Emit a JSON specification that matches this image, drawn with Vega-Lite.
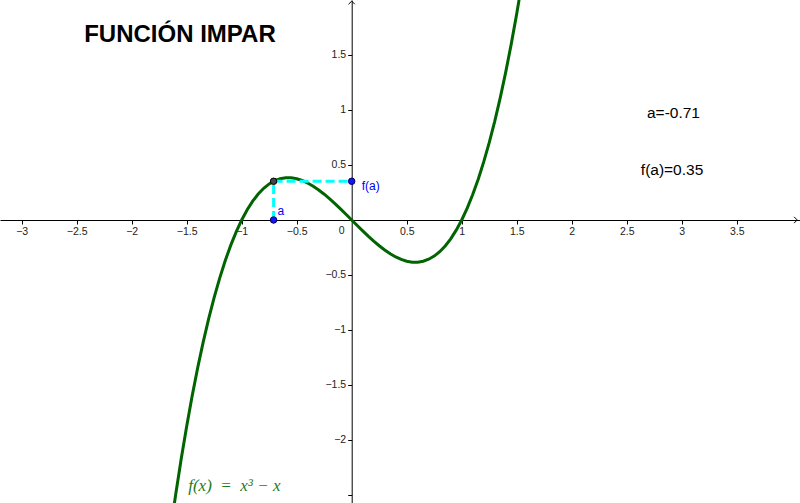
{
  "$schema": "https://vega.github.io/schema/vega-lite/v6.json",
  "width": 800,
  "height": 503,
  "autosize": {"type": "none"},
  "padding": 0,
  "background": "white",
  "config": {"view": {"stroke": null}},
  "datasets": {
    "curve": [
      {"x": -1.65, "y": -2.8421}, {"x": -1.6, "y": -2.496}, {"x": -1.55, "y": -2.1739}, {"x": -1.5, "y": -1.875},
      {"x": -1.45, "y": -1.5986}, {"x": -1.4, "y": -1.344}, {"x": -1.35, "y": -1.1104}, {"x": -1.3, "y": -0.897},
      {"x": -1.25, "y": -0.7031}, {"x": -1.2, "y": -0.528}, {"x": -1.15, "y": -0.3709}, {"x": -1.1, "y": -0.231},
      {"x": -1.05, "y": -0.1076}, {"x": -1.0, "y": 0}, {"x": -0.95, "y": 0.0926}, {"x": -0.9, "y": 0.171},
      {"x": -0.85, "y": 0.2359}, {"x": -0.8, "y": 0.288}, {"x": -0.75, "y": 0.3281}, {"x": -0.7, "y": 0.357},
      {"x": -0.65, "y": 0.3754}, {"x": -0.6, "y": 0.384}, {"x": -0.577, "y": 0.3849}, {"x": -0.55, "y": 0.3836},
      {"x": -0.5, "y": 0.375}, {"x": -0.45, "y": 0.3589}, {"x": -0.4, "y": 0.336}, {"x": -0.35, "y": 0.3071},
      {"x": -0.3, "y": 0.273}, {"x": -0.25, "y": 0.2344}, {"x": -0.2, "y": 0.192}, {"x": -0.15, "y": 0.1466},
      {"x": -0.1, "y": 0.099}, {"x": -0.05, "y": 0.0499}, {"x": 0, "y": 0},
      {"x": 0.05, "y": -0.0499}, {"x": 0.1, "y": -0.099}, {"x": 0.15, "y": -0.1466}, {"x": 0.2, "y": -0.192},
      {"x": 0.25, "y": -0.2344}, {"x": 0.3, "y": -0.273}, {"x": 0.35, "y": -0.3071}, {"x": 0.4, "y": -0.336},
      {"x": 0.45, "y": -0.3589}, {"x": 0.5, "y": -0.375}, {"x": 0.55, "y": -0.3836}, {"x": 0.577, "y": -0.3849},
      {"x": 0.6, "y": -0.384}, {"x": 0.65, "y": -0.3754}, {"x": 0.7, "y": -0.357}, {"x": 0.75, "y": -0.3281},
      {"x": 0.8, "y": -0.288}, {"x": 0.85, "y": -0.2359}, {"x": 0.9, "y": -0.171}, {"x": 0.95, "y": -0.0926},
      {"x": 1.0, "y": 0}, {"x": 1.05, "y": 0.1076}, {"x": 1.1, "y": 0.231}, {"x": 1.15, "y": 0.3709},
      {"x": 1.2, "y": 0.528}, {"x": 1.25, "y": 0.7031}, {"x": 1.3, "y": 0.897}, {"x": 1.35, "y": 1.1104},
      {"x": 1.4, "y": 1.344}, {"x": 1.45, "y": 1.5986}, {"x": 1.5, "y": 1.875}, {"x": 1.55, "y": 2.1739},
      {"x": 1.6, "y": 2.496}
    ],
    "pt": [{"a": -0.71, "fa": 0.352, "zero": 0}],
    "one": [{}]
  },
  "layer": [
    {
      "data": {"name": "curve"},
      "mark": {"type": "line", "color": "#006400", "strokeWidth": 3, "clip": true},
      "encoding": {
        "x": {
          "field": "x", "type": "quantitative",
          "scale": {"domain": [-3.197, 4.075], "nice": false, "zero": false},
          "axis": {
            "orient": "bottom", "offset": -283, "title": null, "grid": false,
            "values": [-3, -2.5, -2, -1.5, -1, -0.5, 0.5, 1, 1.5, 2, 2.5, 3, 3.5],
            "format": ".1~f", "labelFont": "Liberation Sans", "labelFontSize": 10.5,
            "labelColor": "#222222", "labelPadding": 2, "labelFlush": false, "labelOverlap": false,
            "tickSize": 4, "tickColor": "black", "domainColor": "black", "domainWidth": 1
          }
        },
        "y": {
          "field": "y", "type": "quantitative",
          "scale": {"domain": [-2.573, 2.0], "nice": false, "zero": false},
          "axis": {
            "orient": "left", "offset": -351.7, "title": null, "grid": false,
            "values": [-2.5, -2, -1.5, -1, -0.5, 0.5, 1, 1.5],
            "labelExpr": "datum.value == -2.5 ? '' : format(datum.value, '.1~f')",
            "labelFont": "Liberation Sans", "labelFontSize": 10.5,
            "labelColor": "#222222", "labelPadding": 2, "labelFlush": false, "labelOverlap": false,
            "tickSize": 4, "tickColor": "black", "domainColor": "black", "domainWidth": 1
          }
        }
      }
    },
    {
      "data": {"name": "pt"},
      "mark": {"type": "rule", "color": "#00ffff", "strokeWidth": 3, "strokeDash": [9, 4]},
      "encoding": {
        "x": {"field": "a", "type": "quantitative"},
        "y": {"field": "zero", "type": "quantitative"},
        "y2": {"field": "fa"}
      }
    },
    {
      "data": {"name": "pt"},
      "mark": {"type": "rule", "color": "#00ffff", "strokeWidth": 3, "strokeDash": [9, 4]},
      "encoding": {
        "x": {"field": "a", "type": "quantitative"},
        "x2": {"field": "zero"},
        "y": {"field": "fa", "type": "quantitative"}
      }
    },
    {
      "data": {"name": "pt"},
      "mark": {"type": "point", "filled": true, "size": 42, "color": "#1414ff", "stroke": "#000060", "strokeWidth": 1, "opacity": 1},
      "encoding": {
        "x": {"field": "a", "type": "quantitative"},
        "y": {"field": "zero", "type": "quantitative"}
      }
    },
    {
      "data": {"name": "pt"},
      "mark": {"type": "point", "filled": true, "size": 42, "color": "#1414ff", "stroke": "#000060", "strokeWidth": 1, "opacity": 1},
      "encoding": {
        "x": {"field": "zero", "type": "quantitative"},
        "y": {"field": "fa", "type": "quantitative"}
      }
    },
    {
      "data": {"name": "pt"},
      "mark": {"type": "point", "filled": true, "size": 42, "color": "#444444", "stroke": "#000000", "strokeWidth": 1, "opacity": 1},
      "encoding": {
        "x": {"field": "a", "type": "quantitative"},
        "y": {"field": "fa", "type": "quantitative"}
      }
    },
    {
      "data": {"name": "pt"},
      "mark": {"type": "text", "text": "a", "color": "#0000ff", "font": "Liberation Sans", "fontSize": 12, "align": "left", "baseline": "middle", "dx": 4, "dy": -9},
      "encoding": {
        "x": {"field": "a", "type": "quantitative"},
        "y": {"field": "zero", "type": "quantitative"}
      }
    },
    {
      "data": {"name": "pt"},
      "mark": {"type": "text", "text": "f(a)", "color": "#0000ff", "font": "Liberation Sans", "fontSize": 12, "align": "left", "baseline": "middle", "dx": 10, "dy": 5},
      "encoding": {
        "x": {"field": "zero", "type": "quantitative"},
        "y": {"field": "fa", "type": "quantitative"}
      }
    },
    {
      "data": {"name": "one"},
      "mark": {"type": "text", "text": "0", "color": "#222222", "font": "Liberation Sans", "fontSize": 10.5, "align": "center", "baseline": "middle", "dx": -10, "dy": 11},
      "encoding": {"x": {"datum": 0, "type": "quantitative"}, "y": {"datum": 0, "type": "quantitative"}}
    },
    {
      "data": {"name": "one"},
      "mark": {"type": "point", "shape": "M-1,-1L0,0L-1,1", "filled": false, "size": 40, "color": "black", "strokeWidth": 1, "opacity": 1},
      "encoding": {"x": {"datum": 4.05, "type": "quantitative"}, "y": {"datum": 0, "type": "quantitative"}}
    },
    {
      "data": {"name": "one"},
      "mark": {"type": "point", "shape": "M-1,1L0,0L1,1", "filled": false, "size": 40, "color": "black", "strokeWidth": 1, "opacity": 1},
      "encoding": {"x": {"datum": 0, "type": "quantitative"}, "y": {"datum": 1.99, "type": "quantitative"}}
    },
    {
      "data": {"name": "one"},
      "mark": {"type": "text", "text": "FUNCIÓN IMPAR", "color": "black", "font": "Liberation Sans", "fontWeight": "bold", "fontSize": 24, "align": "center", "baseline": "middle"},
      "encoding": {"x": {"datum": -1.561, "type": "quantitative"}, "y": {"datum": 1.682, "type": "quantitative"}}
    },
    {
      "data": {"name": "one"},
      "mark": {"type": "text", "text": "a=-0.71", "color": "black", "font": "Liberation Sans", "fontSize": 15.5, "align": "center", "baseline": "middle"},
      "encoding": {"x": {"datum": 2.925, "type": "quantitative"}, "y": {"datum": 0.973, "type": "quantitative"}}
    },
    {
      "data": {"name": "one"},
      "mark": {"type": "text", "text": "f(a)=0.35", "color": "black", "font": "Liberation Sans", "fontSize": 15.5, "align": "center", "baseline": "middle"},
      "encoding": {"x": {"datum": 2.912, "type": "quantitative"}, "y": {"datum": 0.4545, "type": "quantitative"}}
    },
    {
      "data": {"name": "one"},
      "mark": {"type": "text", "text": "f(x)\u2002=\u2002x³ − x", "color": "#1e7a1e", "font": "Liberation Serif", "fontStyle": "italic", "fontSize": 17, "align": "left", "baseline": "middle"},
      "encoding": {"x": {"datum": -1.486, "type": "quantitative"}, "y": {"datum": -2.418, "type": "quantitative"}}
    }
  ]
}
